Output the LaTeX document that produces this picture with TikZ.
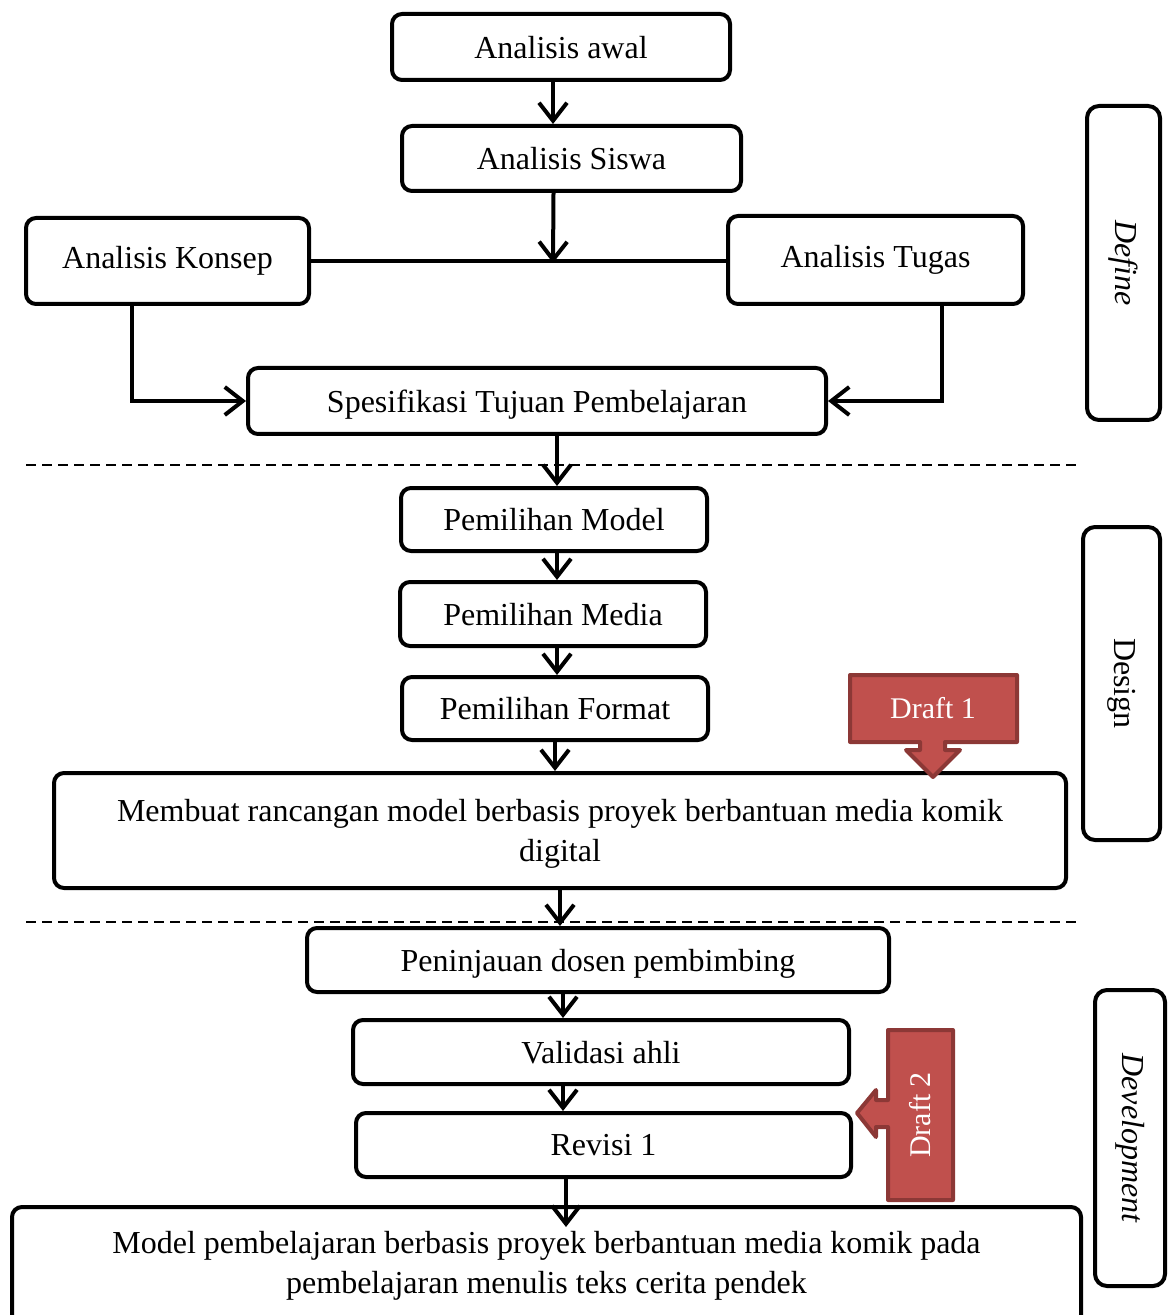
\documentclass[tikz,border=0pt]{standalone}
\usepackage{fontspec}
\setmainfont{Liberation Serif}
\usetikzlibrary{arrows.meta,positioning}
\definecolor{draftred}{RGB}{192,80,77}
\definecolor{draftline}{RGB}{140,56,54}
\tikzset{
  font=\fontsize{16}{20}\selectfont,
  box/.style={
    draw,
    line width=2pt,
    rounded corners=5pt,
    align=center,
    inner sep=0pt
  },
  low/.style={text depth=0pt},
  sidebox/.style={
    draw,
    line width=2pt,
    rounded corners=6pt,
    inner sep=0pt,
    rotate=-90
  },
  arrow/.style={-{Straight Barb[length=9pt,width=14pt]}, line width=2pt},
  link/.style={line width=2pt},
  phase/.style={dashed, dash pattern=on 5pt off 3pt, line width=0.8pt},
  draft/.style={fill=draftred, draw=draftline, line width=2pt, line join=round},
  drafttext/.style={text=white, font=\fontsize{15}{18}\selectfont}
}

\begin{document}
\begin{tikzpicture}[x=0.5pt, y=-0.5pt]
\useasboundingbox (0,0) rectangle (1168,1315);

% Define
\node[box, low, minimum width=169pt, minimum height=33pt] (awal) at (561,47) {Analisis awal};
\node[box, low, minimum width=169.5pt, minimum height=32.5pt] (siswa) at (571.5,158.5) {Analisis Siswa};
\node[box, minimum width=141.5pt, minimum height=43pt] (konsep) at (167.5,261) {Analisis Konsep};
\node[box, minimum width=147.5pt, minimum height=44pt] (tugas) at (875.5,260) {Analisis Tugas};
\node[box, low, minimum width=289pt, minimum height=33pt] (tujuan) at (537,401) {Spesifikasi Tujuan Pembelajaran};
\coordinate (temu) at (553,263);

% Design
\node[box, low, minimum width=153pt, minimum height=31.5pt] (pmodel) at (554,519.5) {Pemilihan Model};
\node[box, low, minimum width=153pt, minimum height=32pt] (pmedia) at (553,614) {Pemilihan Media};
\node[box, low, minimum width=153pt, minimum height=31.5pt] (pformat) at (555,708.5) {Pemilihan Format};
\node[box, low, minimum width=506pt, minimum height=57.5pt] (rancang) at (560,830.5)
  {Membuat rancangan model berbasis proyek berbantuan media komik\\digital};

% Development
\node[box, low, minimum width=291pt, minimum height=32pt] (tinjau) at (598,960) {Peninjauan dosen pembimbing};
\node[box, low, minimum width=248pt, minimum height=32pt] (validasi) at (601,1052) {Validasi ahli};
\node[box, low, minimum width=247.5pt, minimum height=32pt] (revisi) at (603.5,1145) {Revisi 1};
\node[box, minimum width=534.5pt, minimum height=59pt] (hasil) at (546.5,1266)
  {Model pembelajaran berbasis proyek berbantuan media komik pada\\pembelajaran menulis teks cerita pendek};

% Phase labels
\node[sidebox, minimum width=157pt, minimum height=36.5pt] (define) at (1123.5,263) {\itshape Define};
\node[sidebox, minimum width=156.5pt, minimum height=38.5pt] (design) at (1121.5,683.5) {Design};
\node[sidebox, minimum width=148pt, minimum height=35pt] (develop) at (1130,1138) {\itshape Development};

% Phase separators
\draw[phase] (26,465) -- (1080,465);
\draw[phase] (26,922) -- (1080,922);

% Edges
\draw[arrow] ([xshift=-4pt]awal.south) -- ([xshift=-4pt]awal.south |- siswa.north);
\draw[arrow] ([xshift=-9pt]siswa.south) -- (temu);
\draw[link] (konsep.east) -- (konsep.east -| tugas.west);
\draw[arrow] ([xshift=-18pt]konsep.south) |- (tujuan.west);
\draw[arrow] ([xshift=33pt]tugas.south) |- (tujuan.east);
\draw[arrow] ([xshift=10pt]tujuan.south) -- ([xshift=10pt]tujuan.south |- pmodel.north);
\draw[arrow] ([xshift=1.5pt]pmodel.south) -- ([xshift=1.5pt]pmodel.south |- pmedia.north);
\draw[arrow] ([xshift=2pt]pmedia.south) -- ([xshift=2pt]pmedia.south |- pformat.north);
\draw[arrow] (pformat.south) -- (pformat.south |- rancang.north);
\draw[arrow] (rancang.south) -- (rancang.south |- tinjau.north);
\draw[arrow] ([xshift=-17.5pt]tinjau.south) -- ([xshift=-17.5pt]tinjau.south |- validasi.north);
\draw[arrow] ([xshift=-19pt]validasi.south) -- ([xshift=-19pt]validasi.south |- revisi.north);
\draw[arrow] ([xshift=-18.75pt]revisi.south) -- ([xshift=-18.75pt,yshift=-11pt]revisi.south |- hasil.north);

% Draft callouts
\draw[draft] (850,675) -- (1017,675) -- (1017,742) -- (945,742) -- (945,750) -- (960,750)
  -- (933,777) -- (906,750) -- (920,750) -- (920,742) -- (850,742) -- cycle;
\node[drafttext] (draft1) at (933,708) {Draft 1};
\draw[draft] (888,1030) -- (953,1030) -- (953,1200) -- (888,1200) -- (888,1127) -- (876,1127)
  -- (876,1137) -- (857,1113) -- (876,1090) -- (876,1100) -- (888,1100) -- cycle;
\node[drafttext, rotate=90] (draft2) at (920,1115) {Draft 2};

\end{tikzpicture}
\end{document}
